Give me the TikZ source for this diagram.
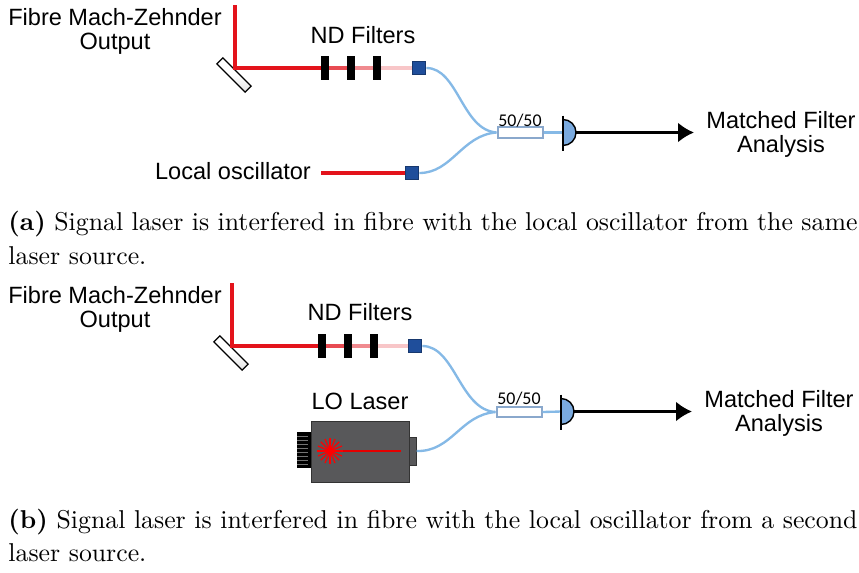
\documentclass[tikz,border=0pt]{standalone}
\usepackage{fontspec}
\usetikzlibrary{arrows.meta}
\newfontfamily\labelfont{Liberation Sans}
\newfontfamily\splitfont{Carlito}

\definecolor{beamred}{HTML}{E3131B}
\definecolor{beamredb}{HTML}{E84B52}
\definecolor{beamredc}{HTML}{F08A8F}
\definecolor{beamredd}{HTML}{F8C6C8}
\definecolor{portblue}{HTML}{1F4E9B}
\definecolor{portedge}{HTML}{17386E}
\definecolor{fibreblue}{HTML}{85B9E6}
\definecolor{splitedge}{HTML}{8AA8CC}
\definecolor{detblue}{HTML}{7AAADF}
\definecolor{lasergrey}{HTML}{58585A}

\tikzset{
  lbl/.style={font=\labelfont\fontsize{10}{10.3}\selectfont, align=center, inner sep=0pt},
  caption/.style={font=\fontsize{10.95}{13.6}\selectfont, inner sep=0pt},
  beam/.style={line width=1.7pt, beamred},
  fibre/.style={line width=1pt, fibreblue},
  mirror/.style={draw, line width=0.55pt, rotate=-45, minimum width=17pt, minimum height=3.6pt,
    inner sep=0pt, top color=white, bottom color=gray!22, middle color=white},
  ndfilter/.style={fill=black, minimum width=3pt, minimum height=10.2pt, inner sep=0pt},
  port/.style={draw=portedge, fill=portblue, line width=0.4pt, minimum size=5.9pt, inner sep=0pt},
  splitter/.style={draw=splitedge, fill=white, line width=0.85pt, minimum width=19.1pt,
    minimum height=4.5pt, inner sep=0pt},
  detector/.style={draw=black, fill=detblue, line width=0.6pt},
  detline/.style={black, line width=0.7pt},
  signal/.style={black, line width=1.1pt, -{Latex[length=6.8pt,width=8.5pt]}},
  laserbody/.style={draw=black!80, fill=lasergrey, line width=0.4pt, inner sep=0pt},
}

\begin{document}
\begin{tikzpicture}[x=0.4246pt, y=-0.4246pt]
\useasboundingbox (0,0) rectangle (859,572);

% ---- (a) local oscillator taken from the same laser
\node[mirror] (a-mirror) at (234,75) {};
\coordinate (a-in) at (235,5);
\coordinate (a-turn) at (235,68);
\node[ndfilter] (a-f1) at (325,68) {};
\node[ndfilter] (a-f2) at (351,68) {};
\node[ndfilter] (a-f3) at (377,68) {};
\node[port] (a-p1) at (419,68) {};
\node[lbl, anchor=north] (a-mz) at (115,8) {Fibre Mach-Zehnder\\Output};
\node[lbl, anchor=base] (a-nd) at (363,43) {ND Filters};
\draw[beam] (a-in) -- (a-turn) -- (a-f1.west);
\draw[beam, beamredb] (a-f1.east) -- (a-f2.west);
\draw[beam, beamredc] (a-f2.east) -- (a-f3.west);
\draw[beam, beamredd] (a-f3.east) -- (a-p1.west);

\node[lbl, anchor=base] (a-lolabel) at (233,179) {Local oscillator};
\coordinate (a-lo) at (321,173);
\node[port] (a-p2) at (412,173) {};
\draw[beam] (a-lo) -- (a-p2.west);

\node[splitter] (a-split) at (520,132.5) {};
\node[font=\splitfont\fontsize{7.6}{8}\selectfont, inner sep=0pt, anchor=base] (a-ratio) at (520,126) {50/50};
\draw[fibre] (a-p1.east) .. controls (458,68) and (462,130) .. (a-split.west);
\draw[fibre] (a-p2.east) .. controls (452,173) and (462,135) .. (a-split.west);

\coordinate (a-det) at (563,132.5);
\draw[fibre] (a-split.east) -- (a-det);
\filldraw[detector] (a-det) ++(0,-13) arc[start angle=-90, end angle=90, radius=13] -- cycle;
\draw[detline] (a-det) ++(0,-17) -- ++(0,35);
\coordinate (a-detout) at (576,132.5);
\coordinate (a-out) at (694,132.5);
\draw[signal] (a-detout) -- (a-out);
\node[lbl, anchor=north] (a-mf) at (781,111) {Matched Filter\\Analysis};

\node[caption, anchor=base west] (a-cap1) at (8,230)
  {\makebox[360.5pt][s]{\textbf{(a)} Signal laser is interfered in fibre with the local oscillator from the same}};
\node[caption, anchor=base west] (a-cap2) at (8,264) {laser source.};

% ---- (b) local oscillator from a second laser
\node[mirror] (b-mirror) at (231,353) {};
\coordinate (b-in) at (232,283);
\coordinate (b-turn) at (232,346);
\node[ndfilter] (b-f1) at (322,346) {};
\node[ndfilter] (b-f2) at (348,346) {};
\node[ndfilter] (b-f3) at (374,346) {};
\node[port] (b-p1) at (415,346) {};
\node[lbl, anchor=north] (b-mz) at (115,286) {Fibre Mach-Zehnder\\Output};
\node[lbl, anchor=base] (b-nd) at (360,320) {ND Filters};
\draw[beam] (b-in) -- (b-turn) -- (b-f1.west);
\draw[beam, beamredb] (b-f1.east) -- (b-f2.west);
\draw[beam, beamredc] (b-f2.east) -- (b-f3.west);
\draw[beam, beamredd] (b-f3.east) -- (b-p1.west);

% LO laser: heat sink, body, output plug and emitter
\fill[black] (297,432) rectangle (311,468);
\foreach \y in {436,440,...,464}
  \draw[black!55, line width=0.35pt] (297,\y) -- (308,\y);
\node[laserbody, minimum width=41.6pt, minimum height=25.9pt] (b-laser) at (360,451.5) {};
\node[laserbody, minimum width=3pt, minimum height=11.9pt] (b-plug) at (412.5,451) {};
\coordinate (b-star) at (330,451);
\draw[red!90!black, line width=0.6pt] (b-star) -- (401,451);
\foreach \a in {0,22.5,...,337.5}
  \draw[red, line width=0.5pt] (b-star) -- ++(\a:13);
\fill[red] (b-star) circle[radius=3.5];
\node[lbl, anchor=base] (b-lolabel) at (360,409) {LO Laser};

\node[splitter] (b-split) at (519,412) {};
\node[font=\splitfont\fontsize{7.6}{8}\selectfont, inner sep=0pt, anchor=base] (b-ratio) at (519,404) {50/50};
\draw[fibre] (b-p1.east) .. controls (455,346) and (460,410) .. (b-split.west);
\draw[fibre] (b-plug.east) .. controls (452,452) and (460,415) .. (b-split.west);

\coordinate (b-det) at (561,411.5);
\draw[fibre] (b-split.east) -- (b-det);
\filldraw[detector] (b-det) ++(0,-13) arc[start angle=-90, end angle=90, radius=13] -- cycle;
\draw[detline] (b-det) ++(0,-17) -- ++(0,35);
\coordinate (b-detout) at (574,411.5);
\coordinate (b-out) at (692,411.5);
\draw[signal] (b-detout) -- (b-out);
\node[lbl, anchor=north] (b-mf) at (779,390) {Matched Filter\\Analysis};

\node[caption, anchor=base west] (b-cap1) at (8,528)
  {\makebox[360.5pt][s]{\textbf{(b)} Signal laser is interfered in fibre with the local oscillator from a second}};
\node[caption, anchor=base west] (b-cap2) at (8,561) {laser source.};
\end{tikzpicture}
\end{document}
